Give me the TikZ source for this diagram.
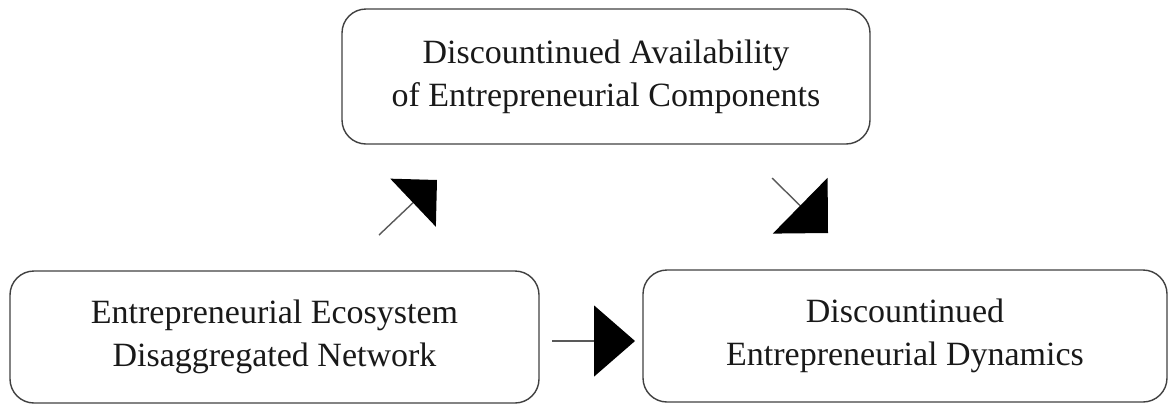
\documentclass[tikz,border=0pt]{standalone}
\usepackage{fontspec}
\setmainfont{Liberation Serif}
\usetikzlibrary{arrows.meta}
\begin{document}
\begin{tikzpicture}[x=1pt,y=1pt,
  box/.style={draw=black!75, line width=1.4pt, rounded corners=24pt, align=center,
    inner sep=0pt, font=\fontsize{34}{43}\selectfont, text=black!90},
  conn/.style={draw=black!65, line width=1.4pt}]
\useasboundingbox (0,0) rectangle (1175,-405);
\node[box, minimum width=528pt, minimum height=135pt] (dac) at (606,-76.5)
  {Discountinued Availability\\of Entrepreneurial Components};
\node[box, minimum width=529pt, minimum height=132pt] (ee) at (274.5,-337)
  {Entrepreneurial Ecosystem\\Disaggregated Network};
\node[box, minimum width=524pt, minimum height=132pt] (ded) at (905,-336)
  {Discountinued\\Entrepreneurial Dynamics};
\coordinate (a1s) at (379,-235);
\coordinate (a1e) at (437,-180);
\coordinate (a2s) at (772,-178);
\coordinate (a2e) at (828,-233);
\coordinate (a3s) at (552,-341);
\coordinate (a3e) at (635,-341);
\draw[conn, -{Triangle[length=33pt,width=66pt,color=black]}] (a1s) -- (a1e);
\draw[conn, -{Triangle[length=39pt,width=78pt,color=black]}] (a2s) -- (a2e);
\draw[conn, -{Triangle[length=41pt,width=71pt,color=black]}] (a3s) -- (a3e);
\end{tikzpicture}
\end{document}
